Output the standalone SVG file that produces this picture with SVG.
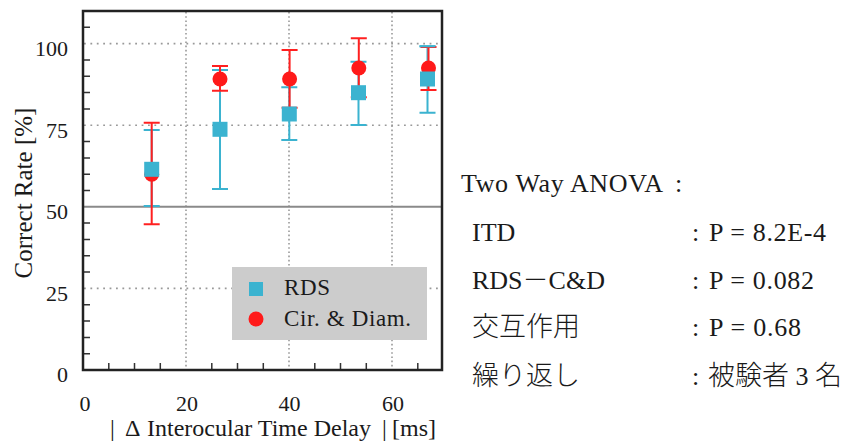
<svg xmlns="http://www.w3.org/2000/svg" width="848" height="446" viewBox="0 0 848 446" font-family="Liberation Serif, Times New Roman, serif">
<style>
.gh{stroke:#999;stroke-width:1.6;stroke-dasharray:1.8 4.6;fill:none}
.gv{stroke:#999;stroke-width:1.6;stroke-dasharray:1.6 2.6;fill:none}
.tk{stroke:#333;stroke-width:1.5}
.cy{stroke:#3bb3d0;stroke-width:2;fill:none}
.rd{stroke:#ff2020;stroke-width:2;fill:none}
.sq{fill:#3bb3d0}
.ci{fill:#ff1a1a}
</style>
<rect width="848" height="446" fill="#ffffff"/>
<g id="grid">
<line class="gh" x1="84" y1="43.6" x2="441" y2="43.6"/>
<line class="gh" x1="84" y1="125.2" x2="441" y2="125.2"/>
<line class="gh" x1="84" y1="288.4" x2="441" y2="288.4"/>
<line class="gv" x1="186" y1="12" x2="186" y2="369"/>
<line class="gv" x1="289" y1="12" x2="289" y2="369"/>
<line class="gv" x1="392" y1="12" x2="392" y2="369"/>
<line x1="84" y1="206.8" x2="441" y2="206.8" stroke="#8a8a8a" stroke-width="2"/>
</g>
<g id="ticks">
<path class="tk" d="M83 353.7h7M83 337.4h7M83 321h7M83 304.7h7M83 272.1h7M83 255.8h7M83 239.5h7M83 223.1h7M83 190.5h7M83 174.2h7M83 157.9h7M83 141.5h7M83 108.9h7M83 92.6h7M83 76.3h7M83 59.9h7M83 27.3h7"/>
<path class="tk" d="M108.8 370v-7M134.5 370v-7M160.3 370v-7M211.8 370v-7M237.5 370v-7M263.3 370v-7M314.8 370v-7M340.5 370v-7M366.3 370v-7M417.8 370v-7"/>
</g>
<rect id="frame" x="83" y="11" width="359" height="359" fill="none" stroke="#222" stroke-width="2.5"/>
<g id="legend" font-family="Liberation Serif, serif" fill="#1a1a1a">
<rect x="232" y="267" width="195" height="73" fill="#cccccc"/>
<rect class="sq" x="249" y="282" width="14" height="14"/>
<circle class="ci" cx="256" cy="319" r="7.5"/>
<text x="284" y="295" font-size="23" textLength="46">RDS</text>
<text x="284" y="326" font-size="23" textLength="127">Cir. &amp; Diam.</text>
</g>
<g id="errorbars-rds">
<path class="cy" d="M151.7 130V206M143.7 130h16M143.7 206h16"/>
<path class="cy" d="M220 70V189M212 70h16M212 189h16"/>
<path class="cy" d="M289.3 87.3V140M281.3 87.3h16M281.3 140h16"/>
<path class="cy" d="M358.5 61.7V125M350.5 61.7h16M350.5 125h16"/>
<path class="cy" d="M427.5 46.3V112.7M419.5 46.3h16M419.5 112.7h16"/>
</g>
<g id="errorbars-cd">
<path class="rd" d="M151.7 122.7V224.3M143.7 122.7h16M143.7 224.3h16"/>
<path class="rd" d="M220 66V90.7M212 66h16M212 90.7h16"/>
<path class="rd" d="M289.6 50V107.7M281.6 50h16M281.6 107.7h16"/>
<path class="rd" d="M358.8 38.3V97.3M350.8 38.3h16M350.8 97.3h16"/>
<path class="rd" d="M428.5 47V90M420.5 47h16M420.5 90h16"/>
<path class="cy" d="M419.5 46.3h16"/>
</g>
<g id="points-cd">
<circle class="ci" cx="151.7" cy="174.3" r="7.5"/>
<circle class="ci" cx="220" cy="79" r="7.5"/>
<circle class="ci" cx="289.6" cy="79" r="7.5"/>
<circle class="ci" cx="358.8" cy="68" r="7.5"/>
<circle class="ci" cx="428.5" cy="68" r="7.5"/>
</g>
<g id="points-rds">
<rect class="sq" x="144.2" y="161.8" width="15" height="15"/>
<rect class="sq" x="212.5" y="121.8" width="15" height="15"/>
<rect class="sq" x="281.8" y="106.5" width="15" height="15"/>
<rect class="sq" x="351" y="85.2" width="15" height="15"/>
<rect class="sq" x="420" y="71.5" width="15" height="15"/>
</g>
<g id="axis-labels" font-family="Liberation Serif, serif" fill="#1a1a1a">
<text font-size="22" text-anchor="end" x="68" y="56">100</text>
<text font-size="22" text-anchor="end" x="68" y="137.5">75</text>
<text font-size="22" text-anchor="end" x="68" y="219">50</text>
<text font-size="22" text-anchor="end" x="68" y="300.5">25</text>
<text font-size="22" text-anchor="end" x="68" y="382">0</text>
<text font-size="22" text-anchor="middle" x="85" y="411">0</text>
<text font-size="22" text-anchor="middle" x="187" y="411">20</text>
<text font-size="22" text-anchor="middle" x="289.5" y="411">40</text>
<text font-size="22" text-anchor="middle" x="393" y="411">60</text>
<text font-size="24" y="436"><tspan x="110">|</tspan><tspan x="125">Δ</tspan><tspan x="147">Interocular Time Delay</tspan><tspan x="382">|</tspan><tspan x="392">[ms]</tspan></text>
<text font-size="25" text-anchor="middle" transform="translate(32 193) rotate(-90)">Correct Rate [%]</text>
</g>
<g id="anova" font-family="Liberation Serif, serif" fill="#1a1a1a">
<text font-size="26" x="461" y="192" textLength="202">Two Way ANOVA</text>
<text font-size="26" x="675" y="192">:</text>
<text font-size="26" x="472" y="241">ITD</text>
<text font-size="26" x="472" y="289">RDS<tspan font-family="Noto Sans CJK JP, sans-serif" font-weight="300">－</tspan>C&amp;D</text>
<text font-family="Noto Sans CJK JP, sans-serif" font-weight="300" font-size="27" x="472" y="336">交互作用</text>
<text font-family="Noto Sans CJK JP, sans-serif" font-weight="300" font-size="27" x="472" y="385">繰り返し</text>
<text font-size="26" x="692" y="241">:</text>
<text font-size="26" x="692" y="289">:</text>
<text font-size="26" x="692" y="336">:</text>
<text font-size="26" x="692" y="385">:</text>
<text font-size="26" x="709" y="241" textLength="117">P = 8.2E-4</text>
<text font-size="26" x="709" y="289" textLength="105">P = 0.082</text>
<text font-size="26" x="709" y="336" textLength="92">P = 0.68</text>
<text font-size="26" x="708" y="385"><tspan font-family="Noto Sans CJK JP, sans-serif" font-weight="300" font-size="27">被験者</tspan> 3 <tspan font-family="Noto Sans CJK JP, sans-serif" font-weight="300" font-size="27">名</tspan></text>
</g>
</svg>
